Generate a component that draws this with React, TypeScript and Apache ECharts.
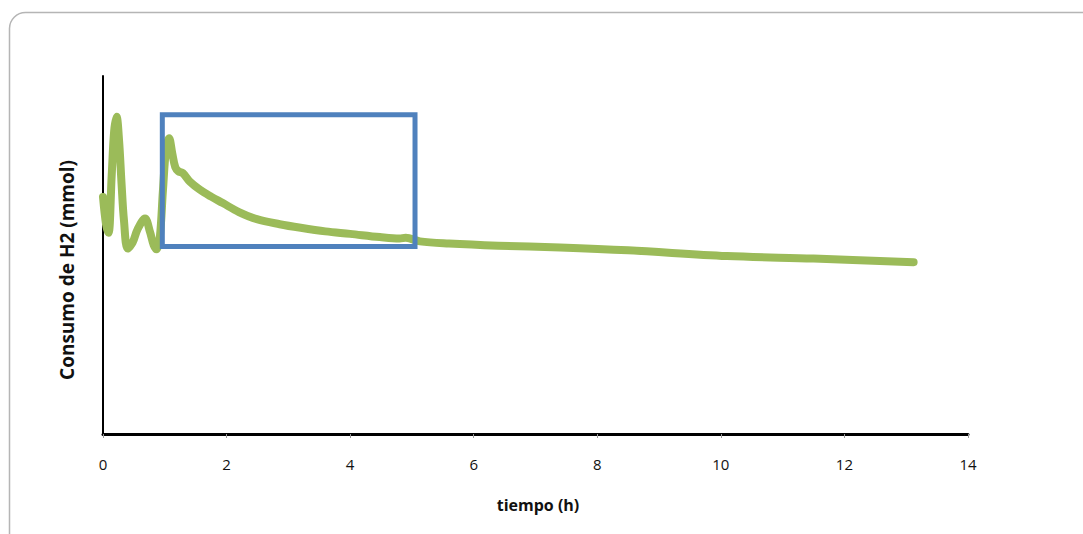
import React, { useEffect, useRef } from "react";
import * as echarts from "echarts";

// tiempo (h)
const timeH = [
  0.0, 0.05, 0.09, 0.14, 0.18, 0.22, 0.26, 0.3, 0.34, 0.4, 0.48, 0.56, 0.68,
  0.76, 0.82, 0.87, 0.92, 0.97, 1.02, 1.07, 1.12, 1.17, 1.22, 1.29, 1.41,
  1.57, 1.75, 1.94, 2.2, 2.49, 2.86, 3.2, 3.6, 4.0, 4.48, 4.8, 4.9, 5.13,
  5.6, 6.4, 7.4, 8.5, 10.1, 11.5, 13.12,
];
// Consumo de H2 (mmol) — relative scale (axis has no labels)
const consumoH2 = [
  66.2, 58.5, 56.2, 72.0, 84.5, 88.6, 82.0, 70.0, 59.5, 51.8, 53.5, 57.2, 60.2,
  56.5, 52.8, 51.6, 55.0, 68.0, 79.5, 82.6, 78.5, 74.5, 73.4, 72.9, 70.4,
  68.2, 66.3, 64.5, 62.0, 60.0, 58.6, 57.6, 56.6, 55.9, 55.0, 54.6, 54.8, 53.8,
  53.2, 52.6, 52.1, 51.3, 49.7, 49.0, 48.0,
];
// highlighted region (blue rectangle) in data units
const boxX = [0.96, 5.05, 5.05, 0.96, 0.96];
const boxY = [89.2, 89.2, 52.4, 52.4, 89.2];
const xTicks = [0, 2, 4, 6, 8, 10, 12, 14];

export default function App() {
  const ref = useRef<HTMLDivElement>(null);
  useEffect(() => {
    if (!ref.current) return;
    const chart = echarts.init(ref.current, undefined, { renderer: "svg" });
    const font = "'Open Sans', 'Liberation Sans', sans-serif";
    chart.setOption({
      animation: false,
      backgroundColor: "#ffffff",
      grid: { left: 103, right: 115, top: 76, bottom: 100, containLabel: false },
      xAxis: {
        type: "value",
        min: xTicks[0],
        max: xTicks[xTicks.length - 1],
        interval: 2,
        axisLine: { show: true, onZero: false, lineStyle: { color: "#000", width: 3 } },
        axisTick: { show: true, length: 4, lineStyle: { color: "#999", width: 1 } },
        axisLabel: { color: "#111", fontSize: 15, fontFamily: font, margin: 22 },
        splitLine: { show: false },
      },
      yAxis: {
        type: "value",
        min: 0,
        max: 100,
        axisLine: { show: true, lineStyle: { color: "#000", width: 2 } },
        axisTick: { show: false },
        axisLabel: { show: false },
        splitLine: { show: false },
      },
      series: [
        {
          type: "line",
          data: timeH.map((t, i) => [t, consumoH2[i]]),
          smooth: 0.35,
          showSymbol: false,
          symbol: "none",
          lineStyle: { color: "#9BBB59", width: 8, cap: "round", join: "round" },
          z: 2,
        },
        {
          type: "line",
          data: boxX.map((x, i) => [x, boxY[i]]),
          showSymbol: false,
          symbol: "none",
          lineStyle: { color: "#4F81BD", width: 5, join: "miter", cap: "square" },
          z: 5,
        },
      ],
      graphic: [
        {
          type: "rect",
          shape: { x: 9.5, y: 12.5, width: 1100, height: 540, r: 16 },
          style: { fill: "none", stroke: "#b5b5b5", lineWidth: 1.5 },
          silent: true,
          z: -1,
        },
        {
          type: "text",
          x: 538,
          y: 505,
          style: {
            text: "tiempo (h)",
            font: `bold 16px ${font}`,
            fill: "#111",
            align: "center",
            verticalAlign: "middle",
          },
        },
        {
          type: "text",
          x: 67,
          y: 270,
          rotation: Math.PI / 2,
          style: {
            text: "Consumo de H2 (mmol)",
            font: `bold 19px ${font}`,
            fill: "#111",
            align: "center",
            verticalAlign: "middle",
          },
        },
      ],
    });
    return () => chart.dispose();
  }, []);
  return (
    <div
      ref={ref}
      style={{ position: "fixed", left: 0, top: 0, width: 1083, height: 534 }}
    />
  );
}
